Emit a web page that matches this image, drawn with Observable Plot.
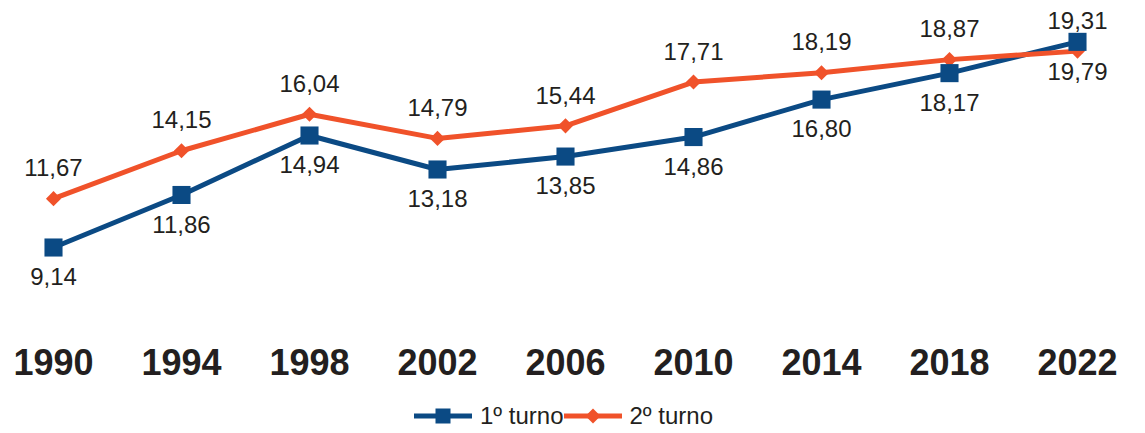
<!DOCTYPE html>
<html><head><meta charset="utf-8">
<script src="https://cdn.jsdelivr.net/npm/d3@7"></script>
<script src="https://cdn.jsdelivr.net/npm/@observablehq/plot@0.6"></script>
<style>
body{margin:0;background:#fff;font-family:"Liberation Sans",Arial,sans-serif;}
#legend{height:35px;display:flex;justify-content:center;align-items:center;font-size:24px;color:#231f20;padding-right:18px;}
#legend svg{display:block}
</style>
</head><body>
<div id="chart"></div>
<div id="legend"></div>
<script>
const years = ["1990","1994","1998","2002","2006","2010","2014","2018","2022"];
const turno1 = [9.14, 11.86, 14.94, 13.18, 13.85, 14.86, 16.80, 18.17, 19.79];
const turno2 = [11.67, 14.15, 16.04, 14.79, 15.44, 17.71, 18.19, 18.87, 19.31];
const seriesNames = ["1º turno", "2º turno"];
const colors = ["#0b4a84", "#f0522a"];

const d1 = years.map((y,i)=>({year:y, v:turno1[i]}));
const d2 = years.map((y,i)=>({year:y, v:turno2[i]}));
const fmt = v => v.toFixed(2).replace(".", ",");

const H = 398;
const plot = Plot.plot({
  width: 1145, height: H,
  marginLeft: 52, marginRight: 67, marginTop: 0, marginBottom: 52,
  x: {type:"point", domain: years, padding: 0},
  y: {domain:[0,20], range:[423.5, 37.3], axis:null},
  style:{fontFamily:'"Liberation Sans", Arial, sans-serif', color:"#231f20", background:"#fff"},
  marks: [
    Plot.axisX({tickSize:0, tickPadding:3, fontSize:36, fontWeight:"bold", label:null, fill:"#231f20"}),
    Plot.line(d1, {x:"year", y:"v", stroke:colors[0], strokeWidth:5}),
    Plot.line(d2, {x:"year", y:"v", stroke:colors[1], strokeWidth:5}),
    Plot.dot(d2, {x:"year", y:"v", symbol:"diamond2", r:6.8, fill:colors[1], stroke:"none"}),
    Plot.dot(d1, {x:"year", y:"v", symbol:"square", r:10.2, fill:colors[0], stroke:"none"}),
    Plot.text(d1, {x:"year", y:"v", text:d=>fmt(d.v), dy:30, fontSize:24, fill:"#231f20", lineAnchor:"middle"}),
    Plot.text(d2, {x:"year", y:"v", text:d=>fmt(d.v), dy:-30, fontSize:24, fill:"#231f20", lineAnchor:"middle"})
  ]
});
document.getElementById("chart").appendChild(plot);

const leg = document.getElementById("legend");
seriesNames.forEach((name,i)=>{
  const ns="http://www.w3.org/2000/svg";
  const s=document.createElementNS(ns,"svg");
  s.setAttribute("width","58");s.setAttribute("height","20");
  const l=document.createElementNS(ns,"line");
  l.setAttribute("x1","0");l.setAttribute("x2","58");l.setAttribute("y1","10");l.setAttribute("y2","10");
  l.setAttribute("stroke",colors[i]);l.setAttribute("stroke-width","5");
  s.appendChild(l);
  if(i===0){
    const r=document.createElementNS(ns,"rect");
    r.setAttribute("x","21.5");r.setAttribute("y","2.5");r.setAttribute("width","15");r.setAttribute("height","15");
    r.setAttribute("fill",colors[i]);s.appendChild(r);
  } else {
    const p=document.createElementNS(ns,"path");
    p.setAttribute("d","M29,2.5L36.5,10L29,17.5L21.5,10Z");p.setAttribute("fill",colors[i]);s.appendChild(p);
  }
  const t=document.createElement("span");
  t.textContent=name;
  t.style.margin = "0 0 0 8px";
  leg.appendChild(s);leg.appendChild(t);
});
</script>
</body></html>
